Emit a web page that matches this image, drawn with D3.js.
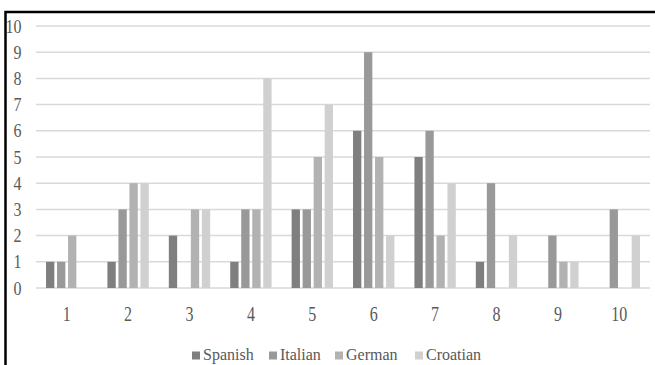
<!DOCTYPE html>
<html>
<head>
<meta charset="utf-8">
<script src="https://cdn.jsdelivr.net/npm/d3@7"></script>
<style>
  html, body { margin: 0; padding: 0; background: #fff; }
  svg { display: block; }
  svg text { font-family: "Liberation Serif", Tinos, "Times New Roman", Times, "DejaVu Serif", serif !important; fill: #595959; }
</style>
</head>
<body>
<svg id="chart" width="655" height="365"></svg>
<script>
// Categories along the x axis
const categories = ["1", "2", "3", "4", "5", "6", "7", "8", "9", "10"];
// Series names shown in the legend
const seriesNames = ["Spanish", "Italian", "German", "Croatian"];
// Values per series, one per category
const spanish  = [1, 1, 2, 1, 3, 6, 5, 1, 0, 0];
const italian  = [1, 3, 0, 3, 3, 9, 6, 4, 2, 3];
const german   = [2, 4, 3, 3, 5, 5, 2, 0, 1, 0];
const croatian = [0, 4, 3, 8, 7, 2, 4, 2, 1, 2];
const seriesValues = [spanish, italian, german, croatian];
const seriesColors = ["#7f7f7f", "#999999", "#b2b2b2", "#d0d0d0"];
// y axis tick values
const yTicks = [0, 1, 2, 3, 4, 5, 6, 7, 8, 9, 10];

const svg = d3.select("#chart");

const x = d3.scaleBand().domain(categories).range([36, 650]);
const x1 = d3.scaleBand().domain(seriesNames).range([0, x.bandwidth()])
  .paddingInner(0.245).paddingOuter(0.91);
const y = d3.scaleLinear().domain([0, 10]).range([288, 26]);

// Frame lines on the top and left edges
svg.append("path")
  .attr("d", "M5.5,365V12H655")
  .attr("fill", "none")
  .attr("stroke", "#000")
  .attr("stroke-width", 2.5);

// Horizontal gridlines
svg.append("g").selectAll("line").data(yTicks).join("line")
  .attr("x1", 36).attr("x2", 650)
  .attr("y1", d => y(d)).attr("y2", d => y(d))
  .attr("stroke", "#d9d9d9").attr("stroke-width", 1.5);

// y tick labels (slightly tall glyphs)
const yAxis = d3.axisLeft(y).tickValues(yTicks).tickSize(0).tickPadding(0);
const gy = svg.append("g").attr("transform", "translate(21.5,0)").call(yAxis)
  .attr("font-family", null);
gy.select(".domain").remove();
gy.selectAll("text")
  .attr("font-size", 16).attr("fill", "#595959")
  .attr("x", 0).attr("dy", "0.34em")
  .attr("transform", "scale(1,1.12)")
  .attr("y", 0);
// keep the scaled text anchored at each tick position
gy.selectAll(".tick").attr("transform", d => `translate(0,${y(d) + 0.5})`);

// x tick labels
const xAxis = d3.axisBottom(x).tickSize(0).tickPadding(0);
const gx = svg.append("g").attr("transform", "translate(0,321)").call(xAxis)
  .attr("font-family", null);
gx.select(".domain").remove();
gx.selectAll("text")
  .attr("font-size", 16).attr("fill", "#595959")
  .attr("y", 0).attr("dy", null)
  .attr("transform", "scale(1,1.28)");

// Bars
const groups = svg.append("g").selectAll("g").data(categories).join("g")
  .attr("transform", c => `translate(${x(c)},0)`);
groups.selectAll("rect")
  .data((c, i) => seriesNames.map((s, k) => ({ s, k, v: seriesValues[k][i] })))
  .join("rect")
  .attr("x", d => x1(d.s))
  .attr("width", x1.bandwidth())
  .attr("y", d => y(d.v))
  .attr("height", d => y(0) - y(d.v))
  .attr("fill", d => seriesColors[d.k]);

// Legend
const legendX = [192, 269, 335, 415];
const legend = svg.append("g").selectAll("g").data(seriesNames).join("g")
  .attr("transform", (d, i) => `translate(${legendX[i]},0)`);
legend.append("rect")
  .attr("x", 0).attr("y", 351.5).attr("width", 8).attr("height", 8)
  .attr("fill", (d, i) => seriesColors[i]);
legend.append("text")
  .attr("transform", "translate(11,360) scale(1,1.08)")
  .attr("font-size", 16)
  .text(d => d);
</script>
</body>
</html>
